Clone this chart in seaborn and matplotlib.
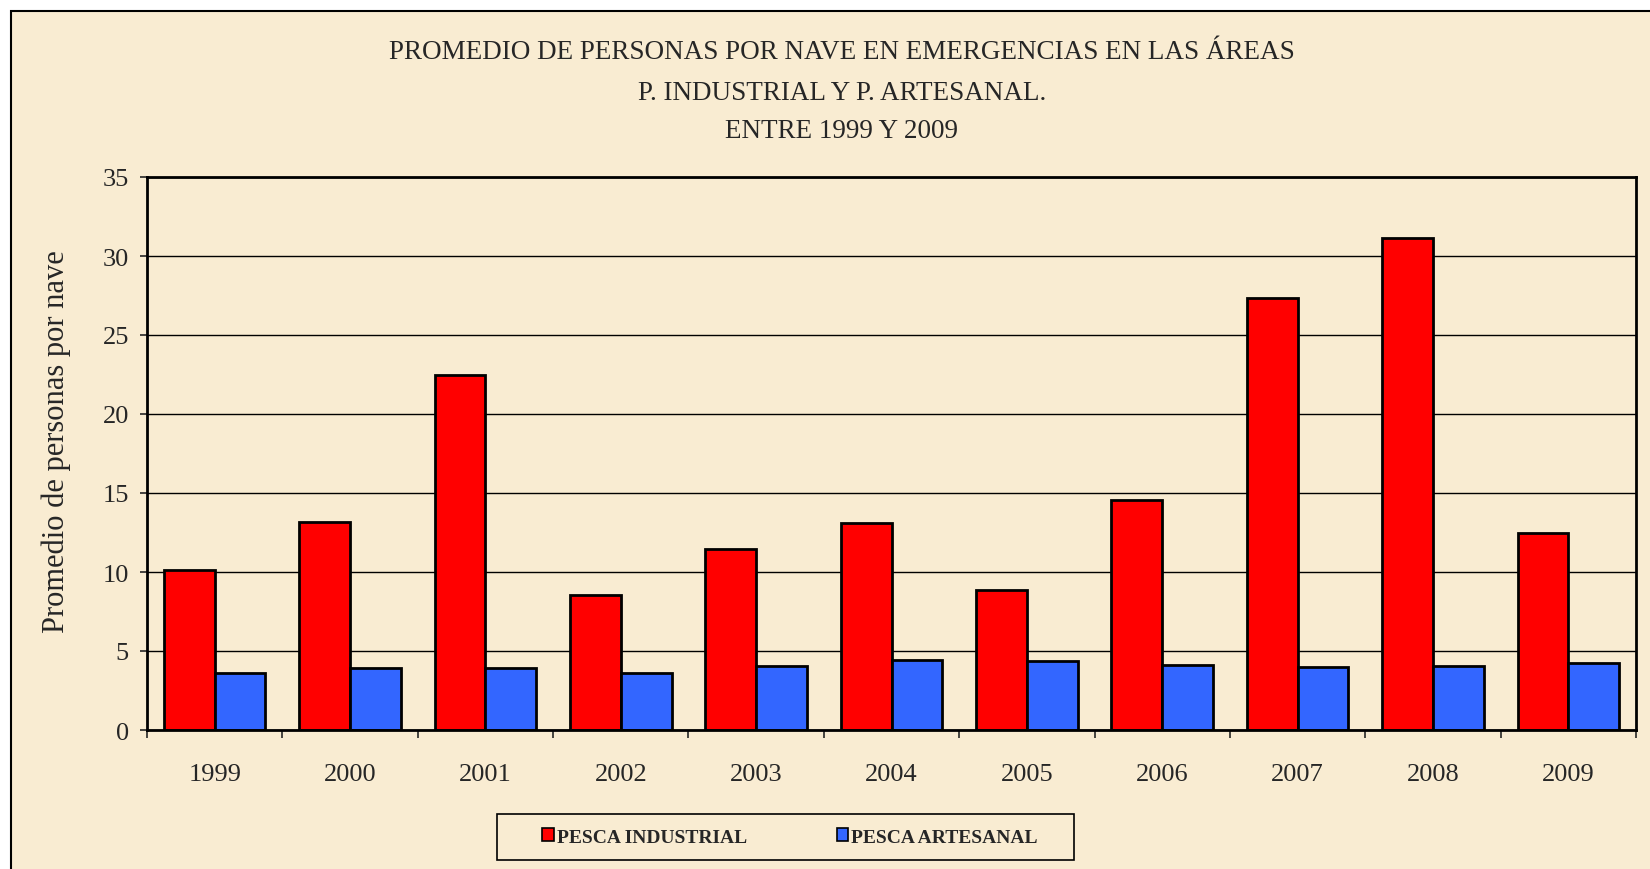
import matplotlib

matplotlib.use("Agg")
import matplotlib.pyplot as plt
import numpy as np
import pandas as pd
import seaborn as sns
from matplotlib.patches import Rectangle
from matplotlib.ticker import FixedLocator

# Data
years = ["1999", "2000", "2001", "2002", "2003", "2004", "2005", "2006", "2007", "2008", "2009"]
industrial = [10.1, 13.15, 22.45, 8.57, 11.43, 13.08, 8.84, 14.58, 27.32, 31.12, 12.47]
artesanal = [3.61, 3.9, 3.95, 3.61, 4.04, 4.41, 4.38, 4.14, 3.97, 4.02, 4.24]
series_names = ["PESCA INDUSTRIAL", "PESCA ARTESANAL"]
title_lines = [
    "PROMEDIO DE PERSONAS POR NAVE EN EMERGENCIAS EN LAS ÁREAS",
    "P. INDUSTRIAL Y P. ARTESANAL.",
    "ENTRE 1999 Y 2009",
]
y_ticks = [0, 5, 10, 15, 20, 25, 30, 35]

bg = "#F9ECD2"
colors = ["#FF0000", "#3366FF"]

df = pd.DataFrame(
    {
        "year": years * 2,
        "value": industrial + artesanal,
        "serie": [series_names[0]] * len(years) + [series_names[1]] * len(years),
    }
)

sns.set_style("white")
plt.rcParams["font.family"] = ["Liberation Serif", "DejaVu Serif"]

fig = plt.figure(figsize=(16.5, 8.7), dpi=100, facecolor="white")
# chart area with a border (starts a bit inside the image)
fig.patches.append(
    Rectangle(
        (11 / 1650, -0.1), 1.2, 1 - 12 / 870 + 0.1,
        transform=fig.transFigure, facecolor=bg, edgecolor="black", lw=1.5, zorder=-10,
    )
)

ax = fig.add_axes([147 / 1650, 1 - 731 / 870, (1636 - 147) / 1650, (731 - 178) / 870])
ax.set_facecolor(bg)

sns.barplot(
    data=df, x="year", y="value", hue="serie", palette=colors,
    width=0.75, gap=0, edgecolor="black", linewidth=2, ax=ax, legend=False,
    saturation=1,
)

ax.set_ylim(0, 35)
ax.set_xlim(-0.5, len(years) - 0.5)
ax.set_yticks(y_ticks)
ax.set_yticklabels([str(t) for t in y_ticks], fontsize=19)
ax.yaxis.grid(True, color="black", lw=1)
ax.set_axisbelow(True)

# x: labels centred, tick marks at category boundaries
ax.tick_params(axis="x", which="major", length=0, pad=24, labelsize=19)
ax.xaxis.set_minor_locator(FixedLocator(np.arange(-0.5, len(years), 1)))
ax.tick_params(axis="x", which="minor", length=6, width=1.2, direction="out", bottom=True)
ax.tick_params(axis="y", length=5, width=1.2, direction="out", left=True, pad=8)

for side in ["top", "right", "left", "bottom"]:
    ax.spines[side].set_visible(True)
    ax.spines[side].set_color("black")
    ax.spines[side].set_linewidth(2)

ax.set_xlabel("")
ax.set_ylabel("Promedio de personas por nave", fontsize=22)
ax.yaxis.set_label_coords(-0.051, 0.524)

# title, three centred lines
for line, yb in zip(title_lines, [59, 100, 138]):
    fig.text(842 / 1650, 1 - yb / 870, line, ha="center", va="baseline", fontsize=19.5)

# legend box drawn separately, legend entries inside it
fig.patches.append(
    Rectangle(
        (497 / 1650, 1 - 861 / 870), 577 / 1650, 46 / 870,
        transform=fig.transFigure, facecolor=bg, edgecolor="black", lw=1.2, zorder=1,
    )
)
handles = [Rectangle((0, 0), 1, 1, facecolor=c, edgecolor="black", lw=1.2) for c in colors]
leg = fig.legend(
    handles, series_names, ncol=2, loc="center",
    bbox_to_anchor=(790 / 1650, 1 - 838 / 870),
    prop={"family": "Liberation Serif", "weight": "bold", "size": 14},
    handlelength=0.6, handleheight=0.6, handletextpad=0.15, columnspacing=4.6,
    frameon=False, borderpad=0, borderaxespad=0,
)

fig.savefig("out.png", dpi=100, facecolor="white")
